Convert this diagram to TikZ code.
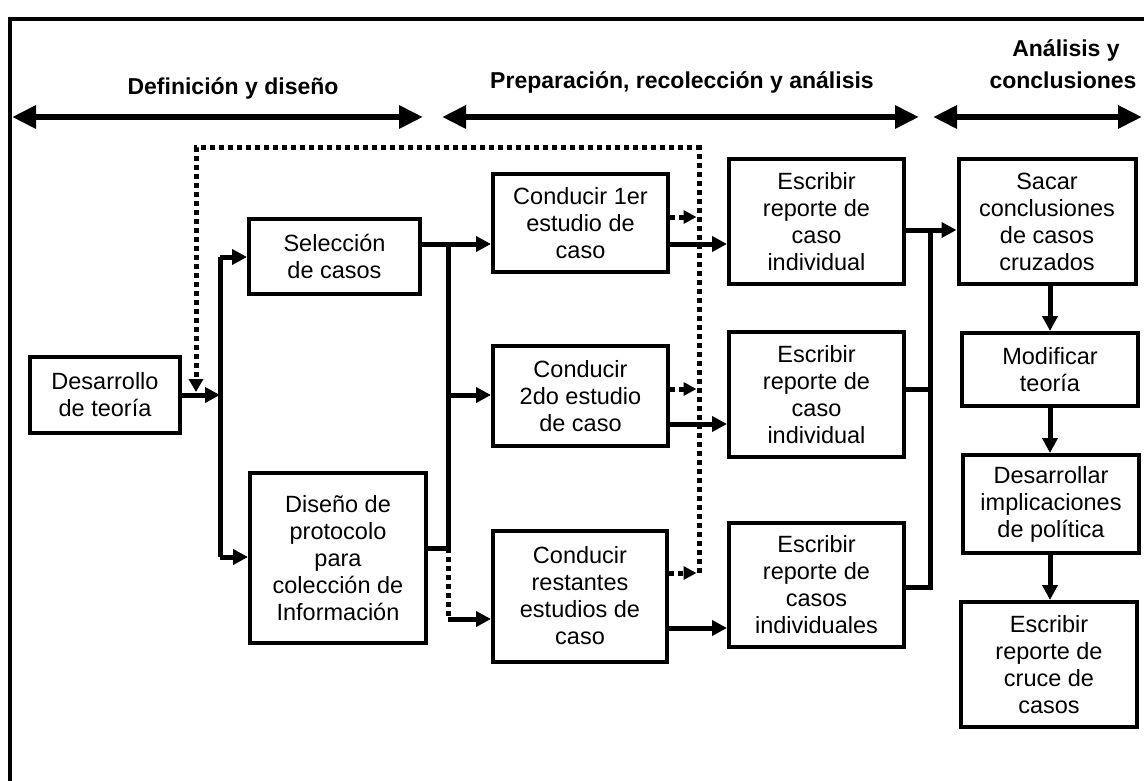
\documentclass[tikz,border=0pt]{standalone}
\usepackage{fontspec}
\setmainfont{Liberation Sans}
\usetikzlibrary{arrows.meta}
\begin{document}
\begin{tikzpicture}[x=1pt,y=-1pt,
  box/.style={draw, line width=4pt, align=center, inner sep=0pt, font=\fontsize{23.5}{27}\selectfont},
  conn/.style={line width=5pt, line join=miter},
  arr/.style={conn, -{Triangle[length=15pt,width=15pt]}},
  dotline/.style={line width=5pt, dash pattern=on 5pt off 4pt},
  dotarr/.style={dotline, -{Triangle[length=13pt,width=13pt]}},
  phasearr/.style={line width=6pt, {Triangle[length=24pt,width=22pt]}-{Triangle[length=24pt,width=22pt]}},
  phaselab/.style={font=\bfseries\fontsize{23}{32}\selectfont, align=center, inner sep=0pt}
]
\clip (0,0) rectangle (1144,781);
\fill[white] (0,0) rectangle (1144,781);
% frame
\draw[line width=3.5pt] (1160,19) -- (10,19) -- (10,800);

% phase labels and arrows
\node[phaselab, anchor=base] (lab1) at (233,95) {Definición y diseño};
\node[phaselab, anchor=base] (lab2) at (682,89) {Preparación, recolección y análisis};
\node[phaselab, anchor=base] (lab3) at (1066,57) {Análisis y};
\node[phaselab, anchor=base] (lab4) at (1063,89) {conclusiones};
\coordinate (p1a) at (12,117);  \coordinate (p1b) at (423,117);
\coordinate (p2a) at (442,117); \coordinate (p2b) at (919,117);
\coordinate (p3a) at (933,117); \coordinate (p3b) at (1142,117);
\draw[phasearr] (p1a) -- (p1b);
\draw[phasearr] (p2a) -- (p2b);
\draw[phasearr] (p3a) -- (p3b);

% boxes
\node[box, minimum width=150, minimum height=76] (dev) at (105,395) {Desarrollo\\de teoría};
\node[box, minimum width=171, minimum height=75] (sel) at (334.5,256.5) {Selección\\de casos};
\node[box, minimum width=176, minimum height=170] (dis) at (338,558) {Diseño de\\protocolo\\para\\colección de\\Información};
\node[box, minimum width=175, minimum height=98] (c1) at (580.5,223) {Conducir 1er\\estudio de\\caso};
\node[box, minimum width=175, minimum height=100] (c2) at (580.5,396) {Conducir\\2do estudio\\de caso};
\node[box, minimum width=174, minimum height=131] (c3) at (580,596) {Conducir\\restantes\\estudios de\\caso};
\node[box, minimum width=175, minimum height=125] (e1) at (816.5,221.5) {Escribir\\reporte de\\caso\\individual};
\node[box, minimum width=175, minimum height=125] (e2) at (816.5,394.5) {Escribir\\reporte de\\caso\\individual};
\node[box, minimum width=175, minimum height=124] (e3) at (816.5,585) {Escribir\\reporte de\\casos\\individuales};
\node[box, minimum width=177, minimum height=125] (sac) at (1047,221.5) {Sacar\\conclusiones\\de casos\\cruzados};
\node[box, minimum width=176, minimum height=73] (mod) at (1050,369.5) {Modificar\\teoría};
\node[box, minimum width=176, minimum height=98] (des) at (1051,504) {Desarrollar\\implicaciones\\de política};
\node[box, minimum width=176, minimum height=125] (cru) at (1049,664.5) {Escribir\\reporte de\\cruce de\\casos};

% left bus
\coordinate (jA) at (220,395);
\coordinate (jAt) at (220,257);
\coordinate (jAb) at (220,557);
\draw[arr] (dev.east) -- (jA);
\draw[conn] (jAt) -- (jAb);
\draw[arr] (jAt) -- (jAt -| sel.west);
\draw[arr] (jAb) -- (jAb -| dis.west);

% middle bus
\coordinate (jB1) at (448,244);
\coordinate (jB2) at (448,395);
\coordinate (jB3) at (448,548);
\coordinate (jB4) at (448,619);
\draw[conn] (jB1 -| sel.east) -- (jB1) -- (jB3) -- (jB3 -| dis.east);
\draw[arr] (jB1) -- (jB1 -| c1.west);
\draw[arr] (jB2) -- (jB2 -| c2.west);
\draw[dotline] (jB3) -- (jB4);
\draw[arr] (jB4) -- (jB4 -| c3.west);

% conducir -> escribir
\coordinate (h1) at (700,244);
\coordinate (h2) at (700,424);
\coordinate (h3) at (700,628);
\draw[arr] (c1.east |- h1) -- (e1.west |- h1);
\draw[arr] (c2.east |- h2) -- (e2.west |- h2);
\draw[arr] (c3.east |- h3) -- (e3.west |- h3);

% right bus
\coordinate (jC1) at (930,230);
\coordinate (jC2) at (930,389);
\coordinate (jC3) at (930,587);
\draw[conn] (jC1 -| e1.east) -- (jC1) -- (jC3) -- (jC3 -| e3.east);
\draw[conn] (jC2 -| e2.east) -- (jC2);
\draw[arr] (jC1) -- (jC1 -| sac.west);

% right column
\coordinate (vx) at (1050,0);
\draw[arr] (sac.south -| vx) -- (mod.north -| vx);
\draw[arr] (mod.south -| vx) -- (des.north -| vx);
\draw[arr] (des.south -| vx) -- (cru.north -| vx);

% dotted feedback
\coordinate (d1) at (699,217);
\coordinate (d2) at (699,389);
\coordinate (d3) at (699,573);
\coordinate (dTR) at (699,148);
\coordinate (dTL) at (196,148);
\coordinate (dE) at (196,392);
\draw[dotarr] (c1.east |- d1) -- ([xshift=-2.5pt]d1);
\draw[dotarr] (c2.east |- d2) -- ([xshift=-2.5pt]d2);
\draw[dotarr] (c3.east |- d3) -- ([xshift=-2.5pt]d3);
\draw[dotline, -{Triangle[length=13pt,width=14pt]}] (d3) -- (dTR) -- (dTL) -- (dE);
\end{tikzpicture}
\end{document}
